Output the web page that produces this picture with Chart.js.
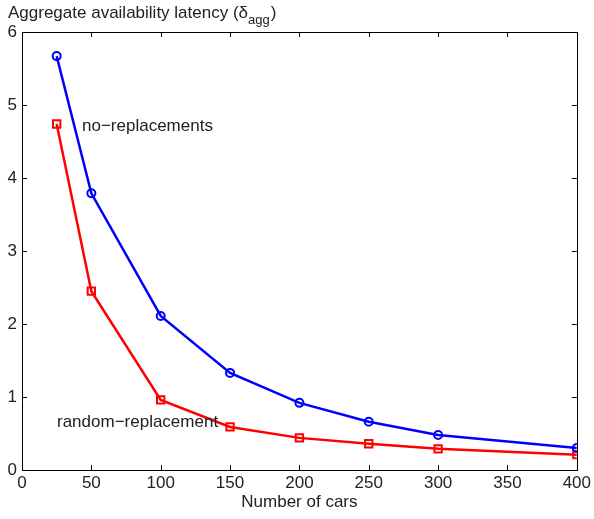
<!DOCTYPE html>
<html>
<head>
<meta charset="utf-8">
<script src="https://cdn.jsdelivr.net/npm/chart.js@4.4.1/dist/chart.umd.min.js"></script>
<style>
  html, body { margin: 0; padding: 0; background: #fff; }
  #wrap { width: 594px; height: 519px; }
</style>
</head>
<body>
<div id="wrap"><canvas id="latencyChart" width="594" height="519"></canvas></div>
<script>
// number of cars on the x axis
const cars = [25, 50, 100, 150, 200, 250, 300, 400];
// aggregate availability latency values
const noReplacements = [5.67, 3.79, 2.11, 1.33, 0.92, 0.66, 0.48, 0.30];
const randomReplacement = [4.74, 2.45, 0.96, 0.59, 0.44, 0.36, 0.29, 0.21];
const xTicks = [0, 50, 100, 150, 200, 250, 300, 350, 400];
const yTicks = [0, 1, 2, 3, 4, 5, 6];

const FONT = "Liberation Sans, Arial, Helvetica, sans-serif";
const TEXT = "#222";

function toPoints(ys) {
    return cars.map((x, i) => ({ x: x, y: ys[i] }));
}

// box around the plot plus inward tick marks on all four sides, and the text labels
const matlabFrame = {
    id: "matlabFrame",
    beforeDatasetsDraw(chart) {
        const ctx = chart.ctx;
        const a = chart.chartArea;
        const xs = chart.scales.x;
        const ys = chart.scales.y;
        const len = 5;
        ctx.save();
        ctx.strokeStyle = "#000";
        ctx.lineWidth = 1;
        ctx.beginPath();
        xTicks.forEach((v) => {
            const px = Math.round(xs.getPixelForValue(v)) + 0.5;
            ctx.moveTo(px, a.bottom); ctx.lineTo(px, a.bottom - len);
            ctx.moveTo(px, a.top); ctx.lineTo(px, a.top + len);
        });
        yTicks.forEach((v) => {
            const py = Math.round(ys.getPixelForValue(v)) + 0.5;
            ctx.moveTo(a.left, py); ctx.lineTo(a.left + len, py);
            ctx.moveTo(a.right, py); ctx.lineTo(a.right - len, py);
        });
        ctx.stroke();
        ctx.strokeRect(Math.round(a.left) + 0.5, Math.round(a.top) + 0.5,
            Math.round(a.right - a.left), Math.round(a.bottom - a.top));
        ctx.restore();
    },
    afterDraw(chart) {
        const ctx = chart.ctx;
        ctx.save();
        ctx.fillStyle = TEXT;
        ctx.textBaseline = "middle";
        ctx.textAlign = "left";
        ctx.font = "17px " + FONT;
        const t1 = "Aggregate availability latency (";
        ctx.fillText(t1, 8, 13);
        let x = 8 + ctx.measureText(t1).width;
        ctx.fillText("\u03b4", x, 13);
        x += ctx.measureText("\u03b4").width;
        ctx.font = "13px " + FONT;
        ctx.fillText("agg", x, 20);
        x += ctx.measureText("agg").width;
        ctx.font = "17px " + FONT;
        ctx.fillText(")", x + 1, 13);

        ctx.fillText("no\u2212replacements", 82, 126);
        ctx.fillText("random\u2212replacement", 57, 422);
        ctx.restore();
    }
};

new Chart(document.getElementById("latencyChart"), {
    type: "line",
    data: {
        datasets: [
            {
                label: "no-replacements",
                data: toPoints(noReplacements),
                borderColor: "#0000ff",
                borderWidth: 2.5,
                pointStyle: "circle",
                pointRadius: 4,
                pointBorderWidth: 2,
                pointBackgroundColor: "rgba(0,0,0,0)",
                pointBorderColor: "#0000ff",
                tension: 0,
            },
            {
                label: "random-replacement",
                data: toPoints(randomReplacement),
                borderColor: "#ff0000",
                borderWidth: 2.5,
                pointStyle: "rect",
                pointRadius: 5.2,
                pointBorderWidth: 2,
                pointBackgroundColor: "rgba(0,0,0,0)",
                pointBorderColor: "#ff0000",
                tension: 0,
            },
        ],
    },
    options: {
        responsive: false,
        animation: false,
        layout: { padding: { left: 0, right: 16, top: 32, bottom: 0 } },
        plugins: {
            legend: { display: false },
            tooltip: { enabled: false },
        },
        scales: {
            x: {
                type: "linear",
                min: 0,
                max: 400,
                afterBuildTicks: (s) => { s.ticks = xTicks.map((v) => ({ value: v })); },
                afterFit: (s) => { s.height = 49; },
                grid: { display: false, drawTicks: false },
                border: { display: false },
                ticks: { color: TEXT, font: { family: FONT, size: 17 }, padding: 3, maxRotation: 0 },
                title: { display: true, text: "Number of cars", color: TEXT, font: { family: FONT, size: 17 }, padding: { top: 0, bottom: 6 } },
            },
            y: {
                min: 0,
                max: 6,
                afterBuildTicks: (s) => { s.ticks = yTicks.map((v) => ({ value: v })); },
                afterFit: (s) => { s.width = 22; },
                grid: { display: false, drawTicks: false },
                border: { display: false },
                ticks: { color: TEXT, font: { family: FONT, size: 17 }, padding: 5 },
            },
        },
    },
    plugins: [matlabFrame],
});
</script>
</body>
</html>
